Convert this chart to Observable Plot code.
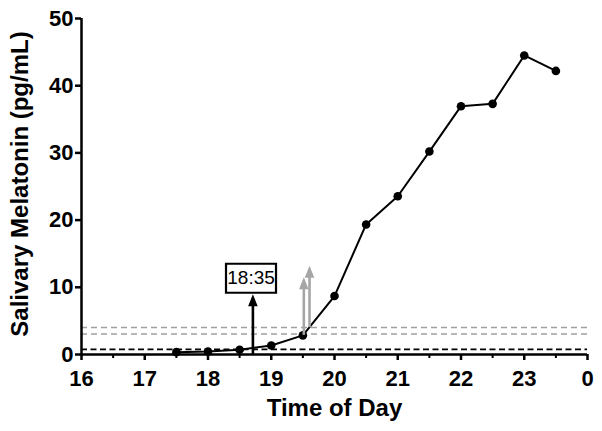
<!DOCTYPE html>
<html>
<head>
<meta charset="utf-8">
<script src="https://cdn.jsdelivr.net/npm/d3@7"></script>
<script src="https://cdn.jsdelivr.net/npm/@observablehq/plot@0.6"></script>
<style>
  html, body { margin: 0; padding: 0; background: #fff; }
  #chart svg { display: block; }
</style>
</head>
<body>
<div id="chart"></div>
<script>
// ---- data ----
const times = [17.5, 18, 18.5, 19, 19.5, 20, 20.5, 21, 21.5, 22, 22.5, 23, 23.5];
const melatonin = [0.35, 0.45, 0.7, 1.35, 2.85, 8.7, 19.35, 23.55, 30.2, 36.95, 37.3, 44.5, 42.2];
const xMajorTicks = [16, 17, 18, 19, 20, 21, 22, 23, 24];
const xMinorTicks = [16.5, 17.5, 18.5, 19.5, 20.5, 21.5, 22.5, 23.5];
const yTicks = [0, 10, 20, 30, 40, 50];
const thresholdsGray = [4.0, 3.05];
const thresholdBlack = [0.75];
// onset arrows: x time, base value, tip value
const arrowX = [18.71, 19.515, 19.605];
const arrowBase = [0, 2.85, 4.0];
const arrowTip = [8.95, 11.5, 13.2];
const arrowColor = ["#000000", "#a6a6a6", "#a6a6a6"];
const onsetLabel = ["18:35"];
const onsetLabelX = [18.68];
const onsetLabelY = [11.35];

const points = times.map((t, i) => ({t, v: melatonin[i]}));
const arrows = arrowX.map((x, i) => ({x, y1: arrowBase[i], y2: arrowTip[i], c: arrowColor[i]}));
const labels = onsetLabel.map((s, i) => ({s, x: onsetLabelX[i], y: onsetLabelY[i]}));

const FONT = "'Liberation Sans', Arial, Helvetica, sans-serif";

const headSymbol = {draw(ctx) { ctx.moveTo(0, 0); ctx.lineTo(-4.8, 12); ctx.lineTo(4.8, 12); ctx.closePath(); }};
const boxSymbol = {draw(ctx) { ctx.rect(-25, -14.5, 50, 29); }};

const chart = Plot.plot({
  width: 602,
  height: 431,
  marginLeft: 81,
  marginRight: 15,
  marginTop: 18,
  marginBottom: 77,
  style: {fontFamily: FONT, fontSize: "22px", fontWeight: "bold", background: "#fff", color: "#000"},
  x: {domain: [16, 24], axis: null},
  y: {domain: [0, 50], axis: null},
  marks: [
    Plot.ruleY(thresholdsGray, {stroke: "#a0a0a0", strokeWidth: 1.5, strokeDasharray: "6,4"}),
    Plot.ruleY(thresholdBlack, {stroke: "#000", strokeWidth: 1.8, strokeDasharray: "6,3.5"}),
    Plot.axisY({ticks: yTicks, tickSize: 6, tickPadding: 2, fontSize: 22, fontWeight: "bold", strokeWidth: 2.5, label: null}),
    Plot.axisX({ticks: xMinorTicks, tickSize: 4, tickFormat: () => "", strokeWidth: 2, label: null}),
    Plot.axisX({ticks: xMajorTicks, tickSize: 6, tickPadding: 9.5, fontSize: 22, fontWeight: "bold", strokeWidth: 2.5,
      tickFormat: d => d === 24 ? "0" : String(d), label: null}),
    Plot.ruleY([0], {stroke: "#000", strokeWidth: 2.5}),
    Plot.ruleX([16], {stroke: "#000", strokeWidth: 2.5}),
    Plot.text(["Time of Day"], {frameAnchor: "bottom", dy: 54.3, fontSize: 24, fontWeight: "bold", textAnchor: "middle", lineAnchor: "middle"}),
    Plot.text(["Salivary Melatonin (pg/mL)"], {frameAnchor: "left", dx: -60.7, dy: -2.5, rotate: -90, fontSize: 24, fontWeight: "bold", textAnchor: "middle", lineAnchor: "middle"}),
    Plot.line(points, {x: "t", y: "v", stroke: "#000", strokeWidth: 2}),
    Plot.dot(points, {x: "t", y: "v", r: 4.3, fill: "#000", stroke: "none"}),
    Plot.ruleX(arrows, {x: "x", y1: "y1", y2: d => d.y2 - 0.6, stroke: d => d.c, strokeWidth: 2.6}),
    Plot.dot(arrows, {x: "x", y: "y2", symbol: headSymbol, fill: d => d.c, stroke: "none"}),
    Plot.dot(labels, {x: "x", y: "y", symbol: boxSymbol, fill: "#fff", stroke: "#000", strokeWidth: 2.2}),
    Plot.text(labels, {x: "x", y: "y", text: "s", fontSize: 19, fontWeight: "normal", fill: "#000", textAnchor: "middle", lineAnchor: "middle"})
  ]
});
document.getElementById("chart").appendChild(chart);
</script>
</body>
</html>
